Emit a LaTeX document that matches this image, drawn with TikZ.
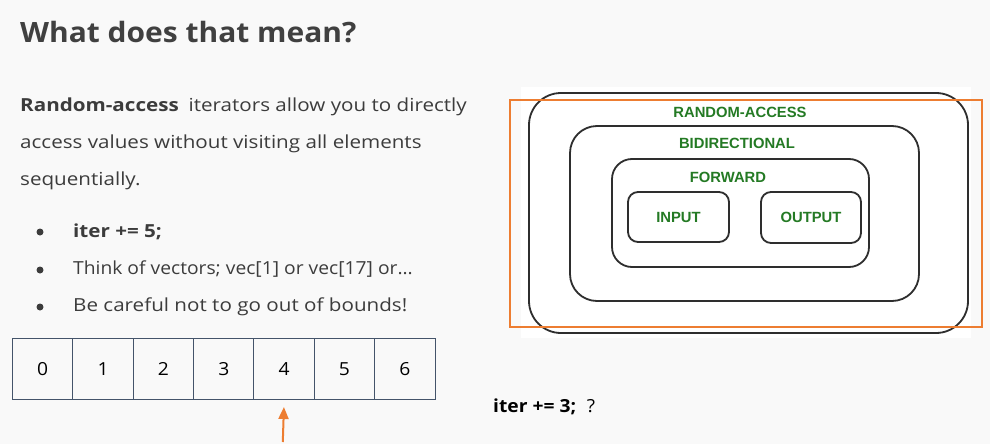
\documentclass[tikz,border=0pt]{standalone}
\usepackage{fontspec}
\setmainfont{Open Sans}[FakeStretch=1.145]
\newfontfamily\titlefont{Open Sans}[FakeStretch=1.07]
\newfontfamily\diagfont{Liberation Sans}
\usetikzlibrary{arrows.meta}
\definecolor{slidebg}{HTML}{F9F9F9}
\definecolor{titlecol}{HTML}{404040}
\definecolor{bodycol}{HTML}{3C3C3C}
\definecolor{cellcol}{HTML}{44546A}
\definecolor{orangecol}{HTML}{ED7D31}
\definecolor{greencol}{HTML}{247A24}
\definecolor{boxcol}{HTML}{2E2E2E}
\tikzset{
  x=1pt, y=-1pt,
  txt/.style={anchor=base west, inner sep=0pt, text=bodycol, font=\fontsize{18}{20}\selectfont},
  cell/.style={draw=cellcol, line width=1pt, minimum width=60.4pt, minimum height=61pt, inner sep=0pt,
    font=\titlefont\fontsize{18}{20}\selectfont, text=black},
  level/.style={draw=boxcol, line width=1.8pt, rectangle, inner sep=0pt},
  glabel/.style={text=greencol, inner sep=0pt, font=\diagfont\bfseries\fontsize{14.8}{16}\selectfont},
  bul/.style={circle, fill=bodycol, inner sep=0pt, minimum size=7pt}
}
\begin{document}
\begin{tikzpicture}
\useasboundingbox (0,0) rectangle (990,444);
\fill[slidebg] (0,0) rectangle (990,444);

% title
\node[anchor=base west, inner sep=0pt, text=titlecol, font=\titlefont\bfseries\fontsize{28}{32}\selectfont] (title) at (20,43) {What does that mean?};

% paragraph
\node[txt] (p1) at (20,111) {\textbf{Random-access}\hspace{0.55em}iterators allow you to directly};
\node[txt] (p2) at (20,148) {access values without visiting all elements};
\node[txt] (p3) at (20,185) {sequentially.};

% bullets
\node[bul] (b1) at (40,232) {};
\node[bul] (b2) at (40,270) {};
\node[bul] (b3) at (40,307) {};
\node[txt] (l1) at (73,237) {\textbf{iter += 5;}};
\node[txt, font=\titlefont\fontsize{18}{20}\selectfont] (l2) at (73,274) {Think of vectors; vec[1] or vec[17] or…};
\node[txt] (l3) at (73,311) {Be careful not to go out of bounds!};

% array
\foreach \i in {0,...,6} {
  \node[cell] (c\i) at ({42.7+60.36*\i},369) {\i};
}
\coordinate (arrtail) at (282.8,442);
\draw[orangecol, line width=2pt, -{Triangle[length=12pt,width=10pt]}, shorten >=7pt] (arrtail) -- (c4.south);

% question
\node[anchor=base west, inner sep=0pt, text=black, font=\titlefont\fontsize{18}{20}\selectfont] (q) at (493,412) {\textbf{iter += 3;}\hspace{0.6em}?};

% diagram image
\fill[white] (521,87) rectangle (971,338);
\node[level, rounded corners=32pt, minimum width=439pt, minimum height=240pt] (outer) at (748.5,213) {};
\node[level, rounded corners=27pt, minimum width=349pt, minimum height=175pt] (bidi) at (744.5,213.5) {};
\node[level, rounded corners=20pt, minimum width=257pt, minimum height=108pt] (fwd) at (740.5,213) {};
\node[level, rounded corners=10pt, minimum width=101pt, minimum height=50pt, glabel] (inp) at (678.5,217) {INPUT};
\node[level, rounded corners=10pt, minimum width=100pt, minimum height=51pt, glabel] (outp) at (811,217.5) {OUTPUT};
\node[glabel] (lra) at (740,112) {RANDOM-ACCESS};
\node[glabel] (lbi) at (737,143) {BIDIRECTIONAL};
\node[glabel] (lfw) at (728,177) {FORWARD};

% orange highlight
\node[draw=orangecol, line width=2pt, rectangle, minimum width=472pt, minimum height=227pt, inner sep=0pt] (hl) at (746,213.5) {};
\end{tikzpicture}
\end{document}
